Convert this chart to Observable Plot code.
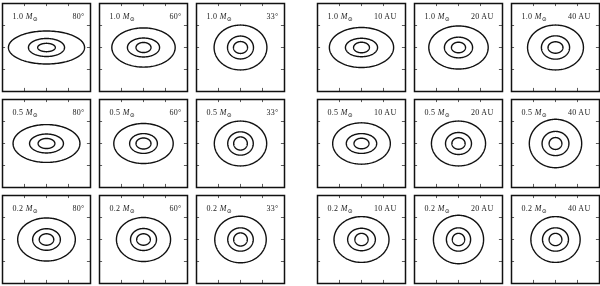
<!DOCTYPE html>
<html>
<head>
<meta charset="utf-8">
<script src="https://cdn.jsdelivr.net/npm/d3@7"></script>
<script src="https://cdn.jsdelivr.net/npm/@observablehq/plot@0.6"></script>
<style>
  html, body { margin: 0; padding: 0; background: #fff; }
  #wrap { display: flex; width: 600px; height: 286px; }
  svg { will-change: transform; -webkit-font-smoothing: antialiased; }
  svg text { font-family: "Liberation Serif", "DejaVu Serif", serif; letter-spacing: 0.3px; }
</style>
</head>
<body>
<div id="wrap"></div>
<script>
// ---- data ----
const masses = ["1.0", "0.5", "0.2"];
const inclinations = ["80°", "60°", "33°"];
const distances = ["10 AU", "20 AU", "40 AU"];
const tickValues = [-1, 0, 1];

// semi-axes [a, b] of outer, middle, inner contour; rows = masses, cols = panels
const inclSemiAxes = [
  [ [[1.73,0.75],[0.82,0.41],[0.40,0.19]], [[1.44,0.89],[0.73,0.43],[0.34,0.23]], [[1.20,1.02],[0.59,0.52],[0.32,0.27]] ],
  [ [[1.52,0.86],[0.77,0.43],[0.38,0.23]], [[1.35,0.91],[0.63,0.45],[0.34,0.25]], [[1.19,1.02],[0.58,0.53],[0.31,0.30]] ],
  [ [[1.31,0.98],[0.63,0.49],[0.33,0.26]], [[1.23,1.00],[0.59,0.50],[0.31,0.26]], [[1.17,1.06],[0.58,0.53],[0.31,0.30]] ]
];
const distSemiAxes = [
  [ [[1.46,0.91],[0.73,0.42],[0.36,0.24]], [[1.35,0.98],[0.64,0.47],[0.32,0.24]], [[1.27,1.02],[0.64,0.53],[0.34,0.26]] ],
  [ [[1.31,0.94],[0.69,0.45],[0.34,0.24]], [[1.23,1.02],[0.59,0.50],[0.30,0.26]], [[1.19,1.10],[0.61,0.55],[0.29,0.27]] ],
  [ [[1.25,1.04],[0.63,0.51],[0.30,0.28]], [[1.14,1.10],[0.55,0.53],[0.28,0.28]], [[1.12,1.04],[0.59,0.53],[0.29,0.28]] ]
];

function makeGroup(colLabels, semi, mLeft, mRight, rightDx) {
  const contours = [];
  const labels = [];
  masses.forEach((m, r) => {
    colLabels.forEach((c, k) => {
      labels.push({row: r, col: k, mass: m + " M⊙", par: c});
      semi[r][k].forEach(([a, b], lev) => {
        const n = 160;
        for (let i = 0; i <= n; i++) {
          const t = (i / n) * 2 * Math.PI;
          contours.push({row: r, col: k, lev, x: a * Math.cos(t), y: b * Math.sin(t)});
        }
      });
    });
  });
  const len = 0.14;
  return Plot.plot({
    width: 300,
    height: 286,
    marginLeft: mLeft,
    marginRight: mRight,
    marginTop: 2,
    marginBottom: 3,
    x: {domain: [-2, 2], axis: null},
    y: {domain: [-2, 2], axis: null},
    fx: {axis: null, domain: [0, 1, 2], paddingInner: 0.0928, paddingOuter: 0},
    fy: {axis: null, domain: [0, 1, 2], paddingInner: 0.088, paddingOuter: 0},
    marks: [
      Plot.line(contours, {x: "x", y: "y", z: "lev", fx: "col", fy: "row", stroke: "#111", strokeWidth: 1.4, curve: "linear"}),
      Plot.ruleX(tickValues, {x: d => d, y1: 2, y2: 2 - len, stroke: "#333", strokeWidth: 0.8}),
      Plot.ruleX(tickValues, {x: d => d, y1: -2, y2: -2 + len, stroke: "#333", strokeWidth: 0.8}),
      Plot.ruleY(tickValues, {y: d => d, x1: -2, x2: -2 + len, stroke: "#333", strokeWidth: 0.8}),
      Plot.ruleY(tickValues, {y: d => d, x1: 2, x2: 2 - len, stroke: "#333", strokeWidth: 0.8}),
      Plot.frame({stroke: "#111", strokeWidth: 1.5}),
      Plot.text(labels, {fx: "col", fy: "row", text: "mass", frameAnchor: "top-left", textAnchor: "start", lineAnchor: "middle", dx: 10, dy: 13, fontSize: 8, fill: "#222"}),
      Plot.text(labels, {fx: "col", fy: "row", text: "par", frameAnchor: "top-right", textAnchor: "end", lineAnchor: "middle", dx: rightDx, dy: 13, fontSize: 8, fill: "#222"})
    ]
  });
}

const wrap = document.getElementById("wrap");
wrap.appendChild(makeGroup(inclinations, inclSemiAxes, 2, 16, -6));
wrap.appendChild(makeGroup(distances, distSemiAxes, 17, 1, -9));

// typeset "M⊙" as italic M with subscript sun symbol
wrap.querySelectorAll("text").forEach(t => {
  const s = t.textContent;
  if (s.includes("M⊙")) {
    const num = s.replace(" M⊙", "");
    t.textContent = "";
    const t1 = document.createElementNS("http://www.w3.org/2000/svg", "tspan");
    t1.textContent = num + " ";
    const t2 = document.createElementNS("http://www.w3.org/2000/svg", "tspan");
    t2.setAttribute("font-style", "italic");
    t2.textContent = "M";
    const t3 = document.createElementNS("http://www.w3.org/2000/svg", "tspan");
    t3.setAttribute("font-size", "6");
    t3.setAttribute("dy", "2");
    t3.textContent = "⊙";
    t.append(t1, t2, t3);
  }
});
</script>
</body>
</html>
